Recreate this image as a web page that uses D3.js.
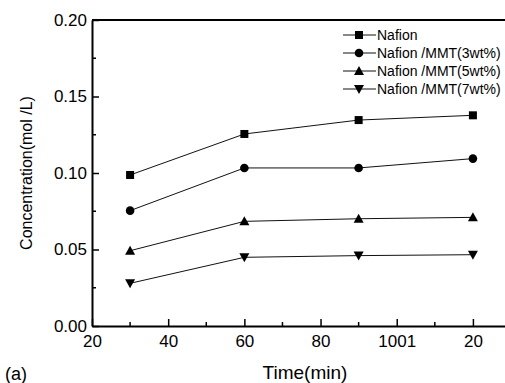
<!DOCTYPE html>
<html>
<head>
<meta charset="utf-8">
<script src="https://cdn.jsdelivr.net/npm/d3@7"></script>
<style>
  html, body { margin: 0; padding: 0; background: #fff; overflow: hidden; }
  text { font-family: "Liberation Sans", Arial, sans-serif; fill: #000; }
</style>
</head>
<body>
<div id="chart"></div>
<script>
// data
const times = [30, 60, 90, 120];
const seriesNames = ["Nafion", "Nafion /MMT(3wt%)", "Nafion /MMT(5wt%)", "Nafion /MMT(7wt%)"];
const nafion = [0.0987, 0.1255, 0.1346, 0.1377];
const mmt3 = [0.0754, 0.1033, 0.1033, 0.1094];
const mmt5 = [0.0492, 0.0684, 0.0701, 0.0710];
const mmt7 = [0.0279, 0.0449, 0.0460, 0.0466];
const markers = ["square", "circle", "triangle", "triangleDown"];
const xTicks = [20, 40, 60, 80, 100, 120];
const xTickLabels = ["20", "40", "60", "80", "1001", "20"];
const yTicks = [0, 0.05, 0.10, 0.15, 0.20];

const W = 505, H = 383;
const m = { top: 20, right: -6, bottom: 57, left: 92 };
const innerW = W - m.left - m.right, innerH = H - m.top - m.bottom;

const svg = d3.select("#chart").append("svg").attr("width", W).attr("height", H);
const g = svg.append("g").attr("transform", `translate(${m.left},${m.top})`);

const x = d3.scaleLinear().domain([20, 130]).range([0, innerW]);
const y = d3.scaleLinear().domain([0, 0.2]).range([innerH, 0]);

// minor ticks
const xMinor = d3.range(30, 130, 20);
const yMinor = d3.range(0.025, 0.2, 0.05);
g.selectAll(".xminor").data(xMinor).join("line")
  .attr("x1", d => x(d)).attr("x2", d => x(d))
  .attr("y1", innerH).attr("y2", innerH - 4)
  .attr("stroke", "#000").attr("stroke-width", 1.5);
g.selectAll(".yminor").data(yMinor).join("line")
  .attr("x1", 0).attr("x2", 4)
  .attr("y1", d => y(d)).attr("y2", d => y(d))
  .attr("stroke", "#000").attr("stroke-width", 1.5);

// axes (ticks inward)
const xAxis = g.append("g").attr("transform", `translate(0,${innerH})`)
  .call(d3.axisBottom(x).tickValues(xTicks).tickSizeInner(-7).tickSizeOuter(0)
    .tickPadding(9).tickFormat((d, i) => xTickLabels[i]));
const yAxis = g.append("g")
  .call(d3.axisLeft(y).tickValues(yTicks).tickSizeInner(-7).tickSizeOuter(0)
    .tickPadding(5).tickFormat(d3.format(".2f")));
[xAxis, yAxis].forEach(a => {
  a.select(".domain").attr("stroke", "#000").attr("stroke-width", 2);
  a.selectAll(".tick line").attr("stroke", "#000").attr("stroke-width", 1.5);
  a.selectAll(".tick text").style("font-size", "17px").attr("fill", "#000");
});
xAxis.selectAll(".tick text").attr("dy", "0.71em");
// top frame
g.append("line").attr("x1", 0).attr("x2", innerW).attr("y1", 0).attr("y2", 0)
  .attr("stroke", "#000").attr("stroke-width", 2);

// series
const allSeries = [nafion, mmt3, mmt5, mmt7];
const line = d3.line().x((d, i) => x(times[i])).y(d => y(d));

function marker(sel, type, size) {
  const s = size;
  if (type === "square") {
    sel.append("rect").attr("x", -s / 2).attr("y", -s / 2).attr("width", s).attr("height", s);
  } else if (type === "circle") {
    sel.append("circle").attr("r", s / 2 + 0.3);
  } else if (type === "triangle") {
    sel.append("path").attr("d", `M0,${-s / 2 - 1}L${s / 2 + 1},${s / 2}L${-s / 2 - 1},${s / 2}Z`);
  } else {
    sel.append("path").attr("d", `M0,${s / 2 + 1}L${s / 2 + 1},${-s / 2}L${-s / 2 - 1},${-s / 2}Z`);
  }
  sel.attr("fill", "#000");
}

allSeries.forEach((vals, k) => {
  g.append("path").datum(vals).attr("d", line)
    .attr("fill", "none").attr("stroke", "#111").attr("stroke-width", 1);
  vals.forEach((v, i) => {
    const mk = g.append("g").attr("transform", `translate(${x(times[i])},${y(v)})`);
    marker(mk, markers[k], 8);
  });
});

// legend
const lg = svg.append("g").attr("transform", "translate(343,35)");
seriesNames.forEach((name, k) => {
  const row = lg.append("g").attr("transform", `translate(0,${k * 18})`);
  row.append("line").attr("x1", 0).attr("x2", 33).attr("stroke", "#111").attr("stroke-width", 1);
  marker(row.append("g").attr("transform", "translate(16,0)"), markers[k], 8);
  row.append("text").attr("x", 34).attr("dy", "0.36em").style("font-size", "14px").text(name);
});

// axis titles
svg.append("text").attr("x", 305).attr("y", 379)
  .attr("text-anchor", "middle").style("font-size", "19px").text("Time(min)");
svg.append("text").attr("transform", "translate(32,173) rotate(-90)")
  .attr("text-anchor", "middle").style("font-size", "16px").text("Concentration(mol /L)");
svg.append("text").attr("x", 5).attr("y", 380).style("font-size", "18px").text("(a)");
</script>
</body>
</html>
